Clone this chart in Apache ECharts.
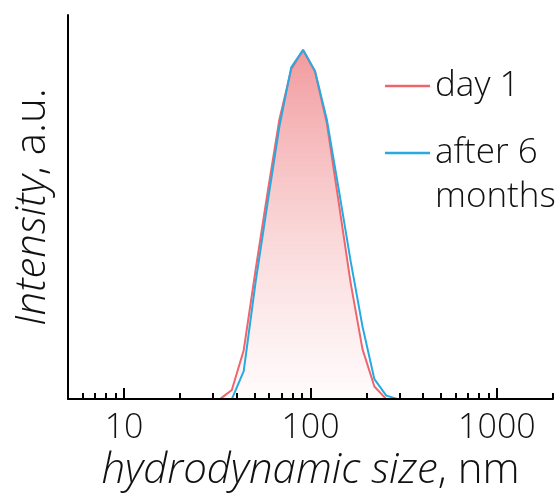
<!DOCTYPE html>
<html>
<head>
<meta charset="utf-8">
<script src="https://cdn.jsdelivr.net/npm/echarts@6/dist/echarts.min.js"></script>
<style>
  html, body { margin: 0; padding: 0; background: #fff; }
  #chart { width: 557px; height: 497px; }
</style>
</head>
<body>
<div id="chart"></div>
<script>
// size bins (nm), log spaced like the instrument output
const sizes = [32.67, 37.84, 43.82, 50.75, 58.77, 68.06, 78.82, 91.28, 105.7, 122.4, 141.8, 164.2, 190.1, 220.2, 255.0, 295.3]
const day1 = [0, 0.026, 0.14, 0.37, 0.59, 0.80, 0.945, 1.0, 0.938, 0.79, 0.562, 0.333, 0.143, 0.036, 0, null]
const months6 = [null, 0, 0.08, 0.335, 0.56, 0.78, 0.95, 1.0, 0.94, 0.80, 0.60, 0.395, 0.208, 0.057, 0.01, 0]

const majorTicks = [10, 100, 1000]
const minorTicks = [5, 6, 7, 8, 9, 20, 30, 40, 50, 60, 70, 80, 90, 200, 300, 400, 500, 600, 700, 800, 900, 2000]

const seriesNames = ['day 1', 'after 6\nmonths']

const font = '"Open Sans", Roboto, "Liberation Sans", sans-serif'
const red = '#ee666c'
const blue = '#27aae1'

function pairs(ys) {
    return sizes.map((s, i) => [s, ys[i]])
}

const legendText = { fontFamily: font, fontWeight: 300, fontSize: 35, color: '#111', lineHeight: 44 }
const titleRich = {
    i: { fontFamily: font, fontWeight: 300, fontStyle: 'italic', fontSize: 42, color: '#111' },
    n: { fontFamily: font, fontWeight: 300, fontSize: 42, color: '#111' }
}

const chart = echarts.init(document.getElementById('chart'))

chart.setOption({
    animation: false,
    textStyle: { fontFamily: font, fontWeight: 300, color: '#111' },
    grid: { left: 68, right: 4, top: 15, bottom: 93 },
    legend: [
        {
            data: [seriesNames[0]],
            orient: 'vertical',
            left: 380,
            top: 59,
            icon: 'rect',
            itemWidth: 45,
            itemHeight: 2.5,
            textStyle: legendText
        },
        {
            // blank first line keeps the icon level with "after 6"
            data: [seriesNames[1]],
            formatter: name => '\n' + name,
            orient: 'vertical',
            left: 380,
            top: 82,
            icon: 'rect',
            itemWidth: 45,
            itemHeight: 2.5,
            textStyle: legendText
        }
    ],
    xAxis: [
        {
            type: 'log',
            logBase: 10,
            min: 5,
            max: 2000,
            position: 'bottom',
            z: 10,
            name: '{i|hydrodynamic size}{n|, nm}',
            nameLocation: 'middle',
            nameGap: 48,
            nameTextStyle: { rich: titleRich },
            axisLine: { onZero: false, lineStyle: { color: '#000', width: 2 } },
            axisTick: { inside: true, length: 11, customValues: majorTicks, lineStyle: { color: '#000', width: 2 } },
            axisLabel: {
                customValues: majorTicks,
                formatter: v => String(v),
                margin: 12,
                fontSize: 34,
                fontFamily: font,
                fontWeight: 300,
                color: '#111'
            },
            splitLine: { show: false },
            minorTick: { show: false }
        },
        {
            type: 'log',
            logBase: 10,
            min: 5,
            max: 2000,
            position: 'bottom',
            z: 10,
            axisLine: { show: false, onZero: false },
            axisTick: { inside: true, length: 6, customValues: minorTicks, lineStyle: { color: '#000', width: 2 } },
            axisLabel: { show: false },
            splitLine: { show: false }
        }
    ],
    yAxis: {
        type: 'value',
        min: 0,
        max: 1.1,
        name: '{i|Intensity}{n|, a.u.}',
        nameLocation: 'middle',
        nameRotate: 90,
        nameGap: 14,
        nameTextStyle: { rich: titleRich },
        axisLine: { show: true, lineStyle: { color: '#000', width: 2 } },
        axisTick: { show: false },
        axisLabel: { show: false },
        splitLine: { show: false }
    },
    series: [
        {
            name: seriesNames[0],
            type: 'line',
            xAxisIndex: 0,
            data: pairs(day1),
            showSymbol: false,
            lineStyle: { color: red, width: 2 },
            itemStyle: { color: red },
            areaStyle: {
                color: new echarts.graphic.LinearGradient(0, 0, 0, 1, [
                    { offset: 0, color: '#ec7075' },
                    { offset: 1, color: 'rgba(255,245,245,0.6)' }
                ])
            },
            z: 2
        },
        {
            name: seriesNames[1],
            type: 'line',
            xAxisIndex: 0,
            data: pairs(months6),
            showSymbol: false,
            lineStyle: { color: blue, width: 2 },
            itemStyle: { color: blue },
            z: 3
        }
    ]
})
</script>
</body>
</html>
